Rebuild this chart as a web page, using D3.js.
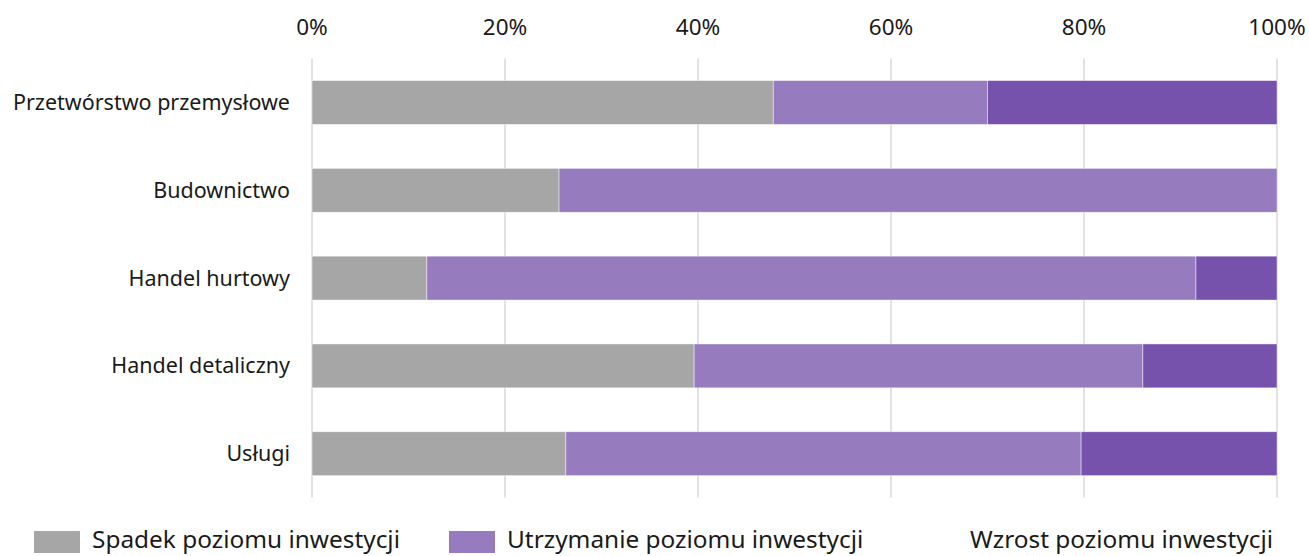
<!DOCTYPE html>
<html>
<head>
<meta charset="utf-8">
<script src="https://cdn.jsdelivr.net/npm/d3@7"></script>
<style>
  body { margin: 0; background: #fff; }
  text { font-family: "Noto Sans", sans-serif; fill: #1a1a1a; }
</style>
</head>
<body>
<div id="chart"></div>
<script>
// categories and series (percent shares)
const categories = ["Przetwórstwo przemysłowe", "Budownictwo", "Handel hurtowy", "Handel detaliczny", "Usługi"];
const spadek = [47.8, 25.6, 11.9, 39.6, 26.3];
const utrzymanie = [22.2, 74.4, 79.7, 46.5, 53.4];
const wzrost = [30.0, 0, 8.4, 13.9, 20.3];
const seriesNames = ["Spadek poziomu inwestycji", "Utrzymanie poziomu inwestycji", "Wzrost poziomu inwestycji"];
const tickValues = [0, 20, 40, 60, 80, 100];

const width = 1309, height = 556;
const margin = { top: 58.6, left: 312, right: 32, bottom: 58.4 };

const svg = d3.select("#chart").append("svg")
    .attr("width", width)
    .attr("height", height);

// build table for stacking
const keys = ["spadek", "utrzymanie", "wzrost"];
const data = categories.map((c, i) => ({ cat: c, spadek: spadek[i], utrzymanie: utrzymanie[i], wzrost: wzrost[i] }));
const stacked = d3.stack().keys(keys)(data);

const colorScale = d3.scaleOrdinal()
    .domain(keys)
    .range(["#a6a6a6", "#967cbf", "#7652ad"]);

const xScale = d3.scaleLinear()
    .domain([0, 100])
    .range([margin.left, width - margin.right]);

const yScale = d3.scaleBand()
    .domain(categories)
    .range([margin.top, height - margin.bottom])
    .paddingInner(0.5)
    .paddingOuter(0.25);

// gridlines
svg.append("g")
    .selectAll("line")
    .data(tickValues)
    .join("line")
    .attr("x1", d => xScale(d))
    .attr("x2", d => xScale(d))
    .attr("y1", margin.top)
    .attr("y2", height - margin.bottom)
    .attr("stroke", "#d9d9d9")
    .attr("stroke-width", 1.5);

// top axis labels
svg.append("g")
    .selectAll("text")
    .data(tickValues)
    .join("text")
    .attr("x", d => xScale(d))
    .attr("y", 27)
    .attr("dy", "0.35em")
    .attr("text-anchor", "middle")
    .style("font-size", "22.5px")
    .text(d => d + "%");

// bars
svg.append("g")
    .selectAll("g")
    .data(stacked)
    .join("g")
    .attr("fill", d => colorScale(d.key))
    .selectAll("rect")
    .data(d => d)
    .join("rect")
    .attr("x", d => xScale(d[0]))
    .attr("y", d => yScale(d.data.cat))
    .attr("width", d => xScale(d[1]) - xScale(d[0]))
    .attr("height", yScale.bandwidth())
    .attr("stroke", "#ffffff")
    .attr("stroke-opacity", 0.6)
    .attr("stroke-width", 0.75);

// category labels
svg.append("g")
    .selectAll("text")
    .data(categories)
    .join("text")
    .attr("x", margin.left - 22)
    .attr("y", d => yScale(d) + yScale.bandwidth() / 2)
    .attr("dy", "0.35em")
    .attr("text-anchor", "end")
    .style("font-size", "21.5px")
    .text(d => d);

// legend (third entry shows no swatch in the original)
const legendX = [34, 449, 912];
const legend = svg.append("g")
    .selectAll("g")
    .data(seriesNames)
    .join("g")
    .attr("transform", (d, i) => `translate(${legendX[i]},531)`);

legend.filter((d, i) => i < 2)
    .append("rect")
    .attr("width", 46)
    .attr("height", 22)
    .attr("fill", (d, i) => colorScale(keys[i]));

legend.append("text")
    .attr("x", 58)
    .attr("y", 8.5)
    .attr("dy", "0.35em")
    .style("font-size", "24.4px")
    .text(d => d);
</script>
</body>
</html>
